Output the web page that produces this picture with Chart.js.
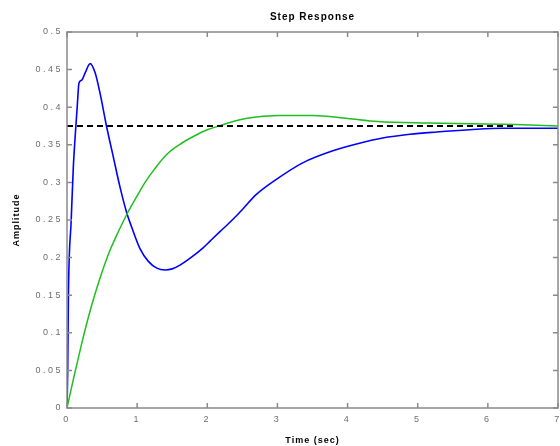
<!DOCTYPE html>
<html lang="en">
<head>
<meta charset="UTF-8" />
<title>Step Response</title>
<script src="https://cdn.jsdelivr.net/npm/chart.js"></script>
<style>
  html, body { margin: 0; padding: 0; background: #fff; }
  #wrap { width: 560px; height: 446px; position: relative; }
</style>
</head>
<body>
<div id="wrap"><canvas id="stepChart"></canvas></div>
<script>
// blue response: fast underdamped start
const blueTime = [0, 0.01, 0.02, 0.06, 0.09, 0.12, 0.15, 0.17, 0.21, 0.26, 0.33, 0.40, 0.47,
  0.565, 0.66, 0.755, 0.85, 0.92, 1.04, 1.16, 1.28, 1.40, 1.50, 1.61, 1.78, 1.94, 2.04,
  2.18, 2.30, 2.42, 2.51, 2.70, 3.00, 3.36, 3.79, 4.17, 4.50, 4.89, 5.27, 5.74, 6.20, 7.00];
const blueAmp = [0, 0.05, 0.15, 0.25, 0.32, 0.366, 0.407, 0.432, 0.436, 0.446, 0.458, 0.446, 0.419,
  0.374, 0.334, 0.294, 0.26, 0.241, 0.212, 0.195, 0.186, 0.1835, 0.185, 0.19, 0.201, 0.213, 0.222,
  0.2345, 0.245, 0.256, 0.265, 0.284, 0.305, 0.326, 0.342, 0.352, 0.359, 0.364, 0.367, 0.370, 0.372, 0.372];

// green response: slow rise with small overshoot
const greenTime = [0, 0.1, 0.2, 0.3, 0.4, 0.5, 0.61, 0.73, 0.85, 1.0, 1.12, 1.25, 1.42,
  1.6, 1.8, 2.0, 2.2, 2.37, 2.55, 2.7, 3.0, 3.5, 4.0, 4.43, 5.14, 6.4, 7.0];
const greenAmp = [0, 0.042, 0.082, 0.119, 0.152, 0.181, 0.209, 0.234, 0.257, 0.282, 0.301, 0.318, 0.337,
  0.35, 0.361, 0.37, 0.376, 0.381, 0.385, 0.387, 0.389, 0.389, 0.385, 0.381, 0.379, 0.377, 0.375];

// steady-state reference line
const finalTime = [0, 6.4];
const finalAmp = [0.375, 0.375];

const xTicks = [0, 1, 2, 3, 4, 5, 6, 7];
const yTicks = [0, 0.05, 0.1, 0.15, 0.2, 0.25, 0.3, 0.35, 0.4, 0.45, 0.5];

const toPoints = (xs, ys) => xs.map((x, i) => ({ x: x, y: ys[i] }));

// box around the plot with inward tick marks on all four sides
const frame = {
  id: 'frame',
  beforeDraw(chart) {
    chart.ctx.letterSpacing = '1px';
  },
  afterDatasetsDraw(chart) {
    chart.ctx.letterSpacing = '2.5px';
  },
  afterDraw(chart) {
    const { ctx, chartArea: a, scales: { x, y } } = chart;
    ctx.letterSpacing = '0px';
    ctx.save();
    ctx.strokeStyle = '#8a8a8a';
    ctx.lineWidth = 1.5;
    ctx.strokeRect(a.left, a.top, a.right - a.left, a.bottom - a.top);
    ctx.beginPath();
    xTicks.forEach((v) => {
      const px = x.getPixelForValue(v);
      ctx.moveTo(px, a.bottom); ctx.lineTo(px, a.bottom - 5);
      ctx.moveTo(px, a.top); ctx.lineTo(px, a.top + 5);
    });
    yTicks.forEach((v) => {
      const py = y.getPixelForValue(v);
      ctx.moveTo(a.left, py); ctx.lineTo(a.left + 5, py);
      ctx.moveTo(a.right, py); ctx.lineTo(a.right - 5, py);
    });
    ctx.stroke();
    ctx.restore();
  }
};

const tickFont = { family: 'Liberation Sans', size: 9 };
const titleFont = { family: 'Liberation Sans', size: 9, weight: 'bold' };

new Chart(document.getElementById('stepChart').getContext('2d'), {
  type: 'line',
  data: {
    datasets: [
      {
        data: toPoints(finalTime, finalAmp),
        borderColor: '#000000',
        borderWidth: 2,
        borderDash: [6, 4],
        pointRadius: 0
      },
      {
        data: toPoints(greenTime, greenAmp),
        borderColor: '#1fbf1f',
        borderWidth: 1.5,
        pointRadius: 0,
        cubicInterpolationMode: 'monotone'
      },
      {
        data: toPoints(blueTime, blueAmp),
        borderColor: '#0000ff',
        borderWidth: 1.6,
        pointRadius: 0,
        cubicInterpolationMode: 'monotone'
      }
    ]
  },
  options: {
    responsive: true,
    maintainAspectRatio: false,
    devicePixelRatio: 1,
    animation: false,
    layout: { padding: { left: 0, right: 2, top: 0, bottom: 0 } },
    plugins: {
      legend: { display: false },
      tooltip: { enabled: false },
      title: { display: false }
    },
    scales: {
      x: {
        type: 'linear',
        min: 0,
        max: 7,
        afterBuildTicks: (s) => { s.ticks = xTicks.map((v) => ({ value: v })); },
        afterFit: (s) => { s.height = 38; s.paddingLeft = 0; s.paddingRight = 0; },
        grid: { display: false, drawTicks: false },
        border: { display: false },
        ticks: { z: 1, color: '#6e6e6e', font: tickFont, padding: 6, autoSkip: false, maxRotation: 0 },
        title: { display: true, text: 'Time (sec)', color: '#000', font: titleFont, padding: { top: 0, bottom: 0 } }
      },
      x2: {
        type: 'linear',
        position: 'top',
        min: 0,
        max: 7,
        afterFit: (s) => { s.height = 32; s.paddingLeft = 0; s.paddingRight = 0; },
        grid: { display: false, drawTicks: false },
        border: { display: false },
        ticks: { display: false },
        title: { display: true, text: 'Step Response', color: '#000', font: { family: 'Liberation Sans', size: 10, weight: 'bold' }, padding: { top: 11, bottom: 0 } }
      },
      y: {
        min: 0,
        max: 0.5,
        afterBuildTicks: (s) => { s.ticks = yTicks.map((v) => ({ value: v })); },
        afterFit: (s) => { s.width = 67; s.paddingTop = 0; s.paddingBottom = 0; },
        grid: { display: false, drawTicks: false },
        border: { display: false },
        ticks: { z: 1, color: '#6e6e6e', font: tickFont, padding: 4, callback: (v) => String(v) },
        title: { display: true, text: 'Amplitude', color: '#000', font: titleFont, padding: { top: 11, bottom: 0 } }
      }
    }
  },
  plugins: [frame]
});
</script>
</body>
</html>
